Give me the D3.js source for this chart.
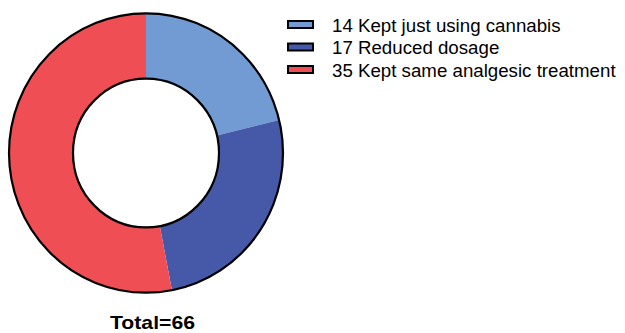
<!DOCTYPE html>
<html>
<head>
<meta charset="utf-8">
<script src="https://cdn.jsdelivr.net/npm/d3@7"></script>
<style>
  html, body { margin: 0; padding: 0; background: #fff; }
  svg { display: block; }
</style>
</head>
<body>
<svg id="chart" width="625" height="333"></svg>
<script>
// Outcome groups and their patient counts
const categories = ["Kept just using cannabis", "Reduced dosage", "Kept same analgesic treatment"];
const counts = [14, 17, 35];
const colors = ["#719bd2", "#4659a8", "#ef4e55"];
const totalLabel = "Total=" + d3.sum(counts);

const svg = d3.select("#chart");
const cx = 146, cy = 153;
const outerR = 137, innerR = 73;

const pie = d3.pie().sort(null).value(d => d);
const arc = d3.arc().innerRadius(innerR).outerRadius(outerR);

const g = svg.append("g").attr("transform", `translate(${cx},${cy}) scale(1,1.02)`);

g.selectAll("path.slice")
  .data(pie(counts))
  .join("path")
  .attr("class", "slice")
  .attr("d", arc)
  .attr("fill", (d, i) => colors[i]);

// ring outlines
[outerR, innerR].forEach(r => {
  g.append("circle")
    .attr("r", r)
    .attr("fill", "none")
    .attr("stroke", "#000")
    .attr("stroke-width", 2.2);
});

// legend
const legend = svg.append("g").attr("transform", "translate(288,25)");
const rowH = 22.5;
const rows = legend.selectAll("g.row")
  .data(categories)
  .join("g")
  .attr("class", "row")
  .attr("transform", (d, i) => `translate(0,${i * rowH})`);

rows.append("rect")
  .attr("x", 0).attr("y", -4)
  .attr("width", 25).attr("height", 7)
  .attr("fill", (d, i) => colors[i])
  .attr("stroke", "#000")
  .attr("stroke-width", 2);

rows.append("text")
  .attr("x", 44)
  .attr("y", 0)
  .attr("dy", "0.35em")
  .attr("font-family", "Liberation Sans, Arial, sans-serif")
  .attr("font-size", 18.7)
  .attr("fill", "#000")
  .text((d, i) => counts[i] + " " + d);

svg.append("text")
  .attr("x", 152.5)
  .attr("y", 329)
  .attr("text-anchor", "middle")
  .attr("font-family", "Liberation Sans, Arial, sans-serif")
  .attr("font-weight", "bold")
  .attr("font-size", 19)
  .attr("textLength", 85)
  .attr("lengthAdjust", "spacingAndGlyphs")
  .attr("fill", "#000")
  .text(totalLabel);
</script>
</body>
</html>
